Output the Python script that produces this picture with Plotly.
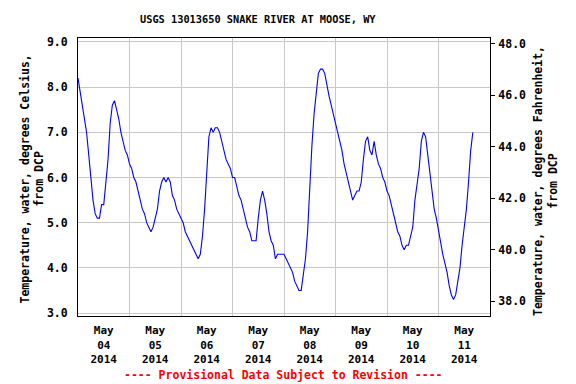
import plotly.graph_objects as go
import pandas as pd

# ---- data (hourly readings, degrees Celsius, starting 2014-05-04 00:00) ----
start_time = "2014-05-04 00:00"
temps_c = [
    8.2, 7.9, 7.6, 7.3, 7.0, 6.5, 5.9, 5.5, 5.2, 5.1, 5.1, 5.4, 5.4, 5.9, 6.4, 7.2, 7.6, 7.7, 7.5, 7.3, 7.0, 6.8, 6.6, 6.5,
    6.3, 6.2, 6.0, 5.9, 5.7, 5.5, 5.3, 5.2, 5.0, 4.9, 4.8, 4.9, 5.1, 5.3, 5.7, 5.9, 6.0, 5.9, 6.0, 5.9, 5.6, 5.5, 5.3, 5.2,
    5.1, 5.0, 4.8, 4.7, 4.6, 4.5, 4.4, 4.3, 4.2, 4.3, 4.7, 5.3, 6.1, 6.9, 7.1, 7.0, 7.1, 7.1, 7.0, 6.8, 6.6, 6.4, 6.3, 6.2,
    6.0, 6.0, 5.8, 5.6, 5.5, 5.3, 5.1, 4.9, 4.8, 4.6, 4.6, 4.6, 5.1, 5.5, 5.7, 5.5, 5.2, 4.8, 4.6, 4.5, 4.2, 4.3, 4.3, 4.3,
    4.3, 4.2, 4.1, 4.0, 3.9, 3.7, 3.6, 3.5, 3.5, 3.8, 4.2, 4.8, 5.9, 6.7, 7.4, 7.9, 8.3, 8.4, 8.4, 8.3, 8.0, 7.8, 7.6, 7.4,
    7.2, 7.0, 6.8, 6.6, 6.3, 6.1, 5.9, 5.7, 5.5, 5.6, 5.7, 5.7, 5.9, 6.4, 6.8, 6.9, 6.6, 6.5, 6.8, 6.5, 6.3, 6.2, 6.0, 5.9,
    5.7, 5.6, 5.4, 5.2, 5.0, 4.8, 4.7, 4.5, 4.4, 4.5, 4.5, 4.7, 4.9, 5.5, 5.9, 6.2, 6.8, 7.0, 6.9, 6.5, 6.1, 5.6, 5.3, 5.1,
    4.8, 4.5, 4.3, 4.1, 3.9, 3.6, 3.4, 3.3, 3.4, 3.7, 4.0, 4.5, 4.9, 5.3, 5.9, 6.6, 7.0,
]
label_days = ["2014-05-04", "2014-05-05", "2014-05-06", "2014-05-07",
              "2014-05-08", "2014-05-09", "2014-05-10", "2014-05-11"]
label_texts = ["May<br>04<br>2014", "May<br>05<br>2014", "May<br>06<br>2014", "May<br>07<br>2014",
               "May<br>08<br>2014", "May<br>09<br>2014", "May<br>10<br>2014", "May<br>11<br>2014"]
celsius_ticks = [3.0, 4.0, 5.0, 6.0, 7.0, 8.0, 9.0]
fahrenheit_ticks = [38.0, 40.0, 42.0, 44.0, 46.0, 48.0]

title_text = "USGS 13013650 SNAKE RIVER AT MOOSE, WY"
left_title = "Temperature, water, degrees Celsius,<br>from DCP"
right_title = "Temperature, water, degrees Fahrenheit,<br>from DCP"
note_text = "---- Provisional Data Subject to Revision ----"

# ---- build ----
times = pd.date_range(start_time, periods=len(temps_c), freq="h")
temps_f = [c * 1.8 + 32 for c in temps_c]
noon_vals = [d + " 12:00" for d in label_days]

FONT = "DejaVu Sans Mono"
grid_col = "#c8c8c8"
PL, PR, PT, PB = 78, 490, 38, 316   # plot-area edges in pixels
PW, PH = PR - PL, PB - PT

fig = go.Figure()
fig.add_trace(go.Scatter(x=times, y=temps_c, mode="lines",
                         line=dict(color="#0000ff", width=1.1),
                         showlegend=False, hoverinfo="x+y"))
fig.add_trace(go.Scatter(x=times, y=temps_f, mode="lines", yaxis="y2",
                         line=dict(color="rgba(0,0,0,0)", width=0),
                         showlegend=False, hoverinfo="skip"))

tickfont = dict(family=FONT, size=11.5, color="black", weight="bold")

fig.update_layout(
    width=576, height=384,
    margin=dict(l=PL, r=576 - PR, t=PT, b=384 - PB, pad=0),
    paper_bgcolor="white", plot_bgcolor="white",
    showlegend=False,
    xaxis=dict(
        range=["2014-05-04 00:00", "2014-05-12 00:00"],
        tickmode="array", tickvals=noon_vals, ticktext=label_texts,
        ticks="", showgrid=False, zeroline=False,
        minor=dict(tick0="2014-05-04", dtick=86400000, showgrid=True,
                   gridcolor=grid_col, gridwidth=1, ticks=""),
        showline=True, linecolor="black", linewidth=1, mirror=True,
        tickfont=dict(family=FONT, size=11, color="black", weight="bold"),
        ticklabelstandoff=4,
    ),
    yaxis=dict(
        range=[2.934, 9.088],
        tickmode="array", tickvals=celsius_ticks,
        ticktext=["%.1f" % v for v in celsius_ticks],
        ticks="", showgrid=True, gridcolor=grid_col, gridwidth=1,
        zeroline=False, showline=True, linecolor="black", linewidth=1,
        mirror=True, tickfont=tickfont, ticklabelstandoff=7,
    ),
    yaxis2=dict(
        range=[37.427, 48.224], overlaying="y", side="right",
        tickmode="array", tickvals=fahrenheit_ticks,
        ticktext=["%.1f" % v for v in fahrenheit_ticks],
        ticks="outside", ticklen=4, tickcolor="black", tickwidth=1,
        showgrid=False, zeroline=False, showline=False,
        tickfont=tickfont, ticklabelstandoff=1,
    ),
    annotations=[
        dict(text=title_text, xref="paper", yref="paper",
             x=(257.5 - PL) / PW, y=1 + (PT - 19) / PH,
             xanchor="center", yanchor="middle", showarrow=False,
             font=dict(family=FONT, size=10.3, color="black", weight="bold")),
        dict(text=left_title, xref="paper", yref="paper",
             x=(31.5 - PL) / PW, y=(PB - 179) / PH,
             xanchor="center", yanchor="middle", textangle=-90, showarrow=False,
             font=dict(family=FONT, size=11.5, color="black", weight="bold")),
        dict(text=right_title, xref="paper", yref="paper",
             x=(545 - PL) / PW, y=(PB - 181) / PH,
             xanchor="center", yanchor="middle", textangle=-90, showarrow=False,
             font=dict(family=FONT, size=11.5, color="black", weight="bold")),
        dict(text=note_text, xref="paper", yref="paper",
             x=(283 - PL) / PW, y=-(375 - PB) / PH,
             xanchor="center", yanchor="middle", showarrow=False,
             font=dict(family=FONT, size=11.5, color="#ff0000", weight="bold")),
    ],
)

fig.write_html("out.html",
               config={"displayModeBar": False},
               post_script="document.body.style.margin='0';document.body.style.overflow='hidden';")
